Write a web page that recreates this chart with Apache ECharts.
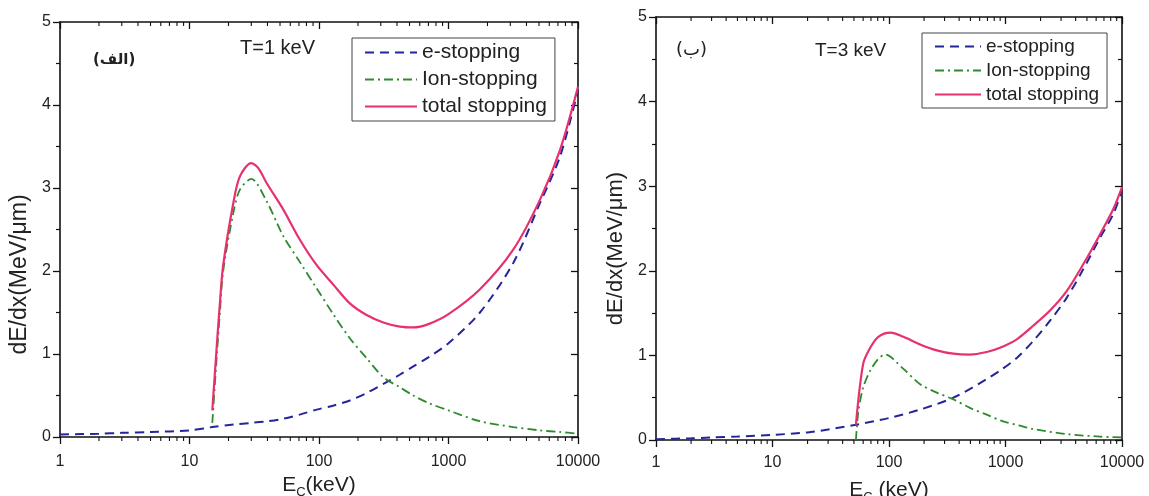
<!DOCTYPE html>
<html>
<head>
<meta charset="utf-8">
<script src="https://cdn.jsdelivr.net/npm/echarts@6/dist/echarts.min.js"></script>
<style>
html,body{margin:0;padding:0;background:#fff;}
#chart{width:1149px;height:496px;}
</style>
</head>
<body>
<div id="chart"></div>
<script>
// ---------- data ----------
// Left panel: T = 1 keV
const leftEStopE   = [1, 2, 3, 5, 10, 15, 22, 30, 40, 53, 71, 96, 130, 173, 233, 314, 420, 535, 700, 1000, 1750, 3170, 5090, 7270, 10000];
const leftEStopV   = [0.03, 0.04, 0.05, 0.06, 0.08, 0.12, 0.15, 0.17, 0.19, 0.22, 0.27, 0.33, 0.38, 0.44, 0.53, 0.64, 0.75, 0.85, 0.96, 1.13, 1.50, 2.10, 2.82, 3.38, 4.18];
const leftIonE     = [15, 16.2, 17.2, 18.2, 21.8, 24.5, 30, 39.4, 53, 71, 96, 130, 173, 233, 314, 420, 535, 700, 1000, 1750, 3170, 5090, 7270, 10000];
const leftIonV     = [0.17, 0.95, 1.52, 2.00, 2.70, 2.98, 3.11, 2.84, 2.42, 2.11, 1.79, 1.47, 1.19, 0.95, 0.72, 0.60, 0.50, 0.41, 0.32, 0.19, 0.12, 0.08, 0.06, 0.04];
const leftTotE     = [15, 16.2, 17.2, 18.2, 21.8, 24.5, 30, 34, 39.4, 53, 71, 96, 130, 173, 233, 314, 420, 535, 700, 1000, 1750, 3170, 5090, 7270, 10000];
const leftTotV     = [0.32, 1.07, 1.63, 2.07, 2.82, 3.14, 3.30, 3.24, 3.06, 2.74, 2.38, 2.07, 1.83, 1.61, 1.47, 1.38, 1.33, 1.32, 1.36, 1.48, 1.78, 2.26, 2.86, 3.46, 4.22];
// Right panel: T = 3 keV
const rightEStopE  = [1, 2, 3, 5, 10, 20, 26, 52, 100, 185, 357, 690, 897, 1250, 1730, 2410, 3350, 4660, 6470, 8420, 10000];
const rightEStopV  = [0.01, 0.02, 0.03, 0.04, 0.06, 0.09, 0.11, 0.18, 0.26, 0.36, 0.50, 0.72, 0.82, 0.97, 1.17, 1.41, 1.68, 2.02, 2.39, 2.67, 2.95];
const rightIonE    = [52, 54.6, 60, 69, 81, 92.5, 133, 185, 257, 357, 495, 690, 955, 1330, 1730, 3350, 6470, 10000];
const rightIonV    = [0.0, 0.34, 0.62, 0.82, 0.96, 1.01, 0.84, 0.66, 0.56, 0.48, 0.38, 0.30, 0.22, 0.17, 0.13, 0.07, 0.04, 0.03];
const rightTotE    = [52, 60, 69, 81, 103, 133, 185, 257, 357, 495, 690, 897, 1250, 1730, 2410, 3350, 4660, 6470, 8420, 10000];
const rightTotV    = [0.18, 0.90, 1.09, 1.22, 1.27, 1.22, 1.13, 1.06, 1.02, 1.01, 1.04, 1.09, 1.19, 1.35, 1.53, 1.76, 2.08, 2.43, 2.73, 2.99];

const seriesNames  = ['e-stopping', 'Ion-stopping', 'total stopping'];
const panelTemps   = ['T=1 keV', 'T=3 keV'];
const panelTags    = ['(الف)', '(ب)'];
const yTitle       = 'dE/dx(MeV/μm)';
const xTitles      = ['E{sub|C}(keV)', 'E{sub|C} (keV)'];
const minorTickVals = [];
[1, 10, 100, 1000].forEach(d => { for (let k = 2; k <= 9; k++) minorTickVals.push(k * d); });

// ---------- styling ----------
const FONT = '"Liberation Sans", Arial, sans-serif';
const BLUE = '#25259a', GREEN = '#2f8a2f', PINK = '#e8306e';
const pairs = (xs, ys) => xs.map((x, i) => [x, ys[i]]);

function xAxes(g, title, labelMargin, nameGap) {
  return [
    { gridIndex: g, type: 'log', logBase: 10, min: 1, max: 10000, position: 'bottom',
      axisLine: { show: true, onZero: false, lineStyle: { color: '#111', width: 1.6 } },
      axisTick: { show: true, inside: false, length: 7, lineStyle: { color: '#111', width: 1.3 } },
      minorTick: { show: false },
      axisLabel: { fontSize: 16, color: '#222', fontFamily: FONT, margin: labelMargin,
        formatter: v => String(Math.round(v)) },
      splitLine: { show: false },
      name: title, nameLocation: 'middle', nameGap: nameGap,
      nameTextStyle: { fontSize: 21, color: '#222', fontFamily: FONT,
        rich: { sub: { fontSize: 13, fontFamily: FONT, color: '#222', padding: [14, 0, 0, 0] } } } },
    { gridIndex: g, type: 'log', logBase: 10, min: 1, max: 10000, position: 'top',
      axisLine: { show: true, onZero: false, lineStyle: { color: '#111', width: 1.6 } },
      axisTick: { show: true, inside: true, length: 7, lineStyle: { color: '#111', width: 1.3 } },
      axisLabel: { show: false }, splitLine: { show: false } }
  ];
}
function yAxes(g, fs, pad) {
  return [
    { gridIndex: g, type: 'value', min: 0, max: 5, interval: 1, position: 'left',
      axisLine: { show: true, onZero: false, lineStyle: { color: '#111', width: 1.6 } },
      axisTick: { show: true, inside: false, length: 7, lineStyle: { color: '#111', width: 1.3 } },
      minorTick: { show: true, splitNumber: 2, length: 4, lineStyle: { color: '#111', width: 1.2 } },
      axisLabel: { fontSize: 16, color: '#222', fontFamily: FONT, margin: 9 },
      splitLine: { show: false },
      name: yTitle, nameLocation: 'middle', nameGap: 29, nameRotate: 90,
      nameTextStyle: { fontSize: fs, color: '#222', fontFamily: FONT, padding: pad } },
    { gridIndex: g, type: 'value', min: 0, max: 5, interval: 1, position: 'right',
      axisLine: { show: true, onZero: false, lineStyle: { color: '#111', width: 1.6 } },
      axisTick: { show: true, inside: true, length: 7, lineStyle: { color: '#111', width: 1.3 } },
      minorTick: { show: true, splitNumber: 2, length: 4, lineStyle: { color: '#111', width: 1.2 } },
      axisLabel: { show: false }, splitLine: { show: false } }
  ];
}
function lineSeries(name, data, xi, yi, color, type, w) {
  return { name, type: 'line', xAxisIndex: xi, yAxisIndex: yi, data, symbol: 'none',
    smooth: 0.3,
    lineStyle: { color, width: w, type }, itemStyle: { color }, z: name === 'total stopping' ? 3 : 2 };
}
function minorTickSeries(xi, yi) {
  return { type: 'custom', xAxisIndex: xi, yAxisIndex: yi, silent: true, clip: false, z: 5,
    data: minorTickVals.map(v => [v, 0]),
    renderItem: (params, api) => {
      const v = api.value(0);
      const b = api.coord([v, 0]);
      const t = api.coord([v, 5]);
      return { type: 'group', children: [
        { type: 'line', shape: { x1: b[0], y1: b[1], x2: b[0], y2: b[1] + 4 }, style: { stroke: '#111', lineWidth: 1.1 } },
        { type: 'line', shape: { x1: t[0], y1: t[1], x2: t[0], y2: t[1] + 4 }, style: { stroke: '#111', lineWidth: 1.1 } }
      ] };
    } };
}
function legend(left, top, iconW, fs, gap) {
  return { orient: 'vertical', left, top, data: seriesNames, selectedMode: false,
    backgroundColor: '#fff', borderColor: '#444', borderWidth: 1, borderRadius: 0,
    padding: [4, 8, 4, 12], itemWidth: iconW, itemHeight: 14, itemGap: gap,
    itemStyle: { color: 'rgba(0,0,0,0)', borderWidth: 0, opacity: 0 },
    textStyle: { fontSize: fs, color: '#222', fontFamily: FONT } };
}

const dashE = [9, 6];
const dashIon = [9, 4, 2, 4];

const option = {
  animation: false,
  backgroundColor: '#fff',
  grid: [
    { left: 60, top: 22, width: 518, height: 415, outerBoundsMode: 'none', containLabel: false },
    { left: 656, top: 17, width: 466, height: 423, outerBoundsMode: 'none', containLabel: false }
  ],
  xAxis: [...xAxes(0, xTitles[0], 17, 33), ...xAxes(1, xTitles[1], 15, 37)],
  yAxis: [...yAxes(0, 23, [0, 90, 0, 0]), ...yAxes(1, 22, [0, 40, 0, 0])],
  legend: [legend(352, 38, 52, 21, 6), legend(922, 33, 46, 19, 5)],
  series: [
    lineSeries(seriesNames[0], pairs(leftEStopE, leftEStopV), 0, 0, BLUE, dashE, 2),
    lineSeries(seriesNames[1], pairs(leftIonE, leftIonV), 0, 0, GREEN, dashIon, 1.8),
    lineSeries(seriesNames[2], pairs(leftTotE, leftTotV), 0, 0, PINK, 'solid', 2.2),
    lineSeries(seriesNames[0], pairs(rightEStopE, rightEStopV), 2, 2, BLUE, dashE, 2),
    lineSeries(seriesNames[1], pairs(rightIonE, rightIonV), 2, 2, GREEN, dashIon, 1.8),
    lineSeries(seriesNames[2], pairs(rightTotE, rightTotV), 2, 2, PINK, 'solid', 2.2),
    minorTickSeries(0, 0),
    minorTickSeries(2, 2)
  ],
  graphic: [
    { type: 'text', left: 240, top: 38, style: { text: panelTemps[0], font: '20px ' + FONT, fill: '#222' } },
    { type: 'text', left: 93, top: 53, style: { text: panelTags[0], font: 'bold 15px "DejaVu Sans", sans-serif', fill: '#222' } },
    { type: 'text', left: 815, top: 41, style: { text: panelTemps[1], font: '19px ' + FONT, fill: '#222' } },
    { type: 'text', left: 676, top: 41, style: { text: panelTags[1], font: '18px "DejaVu Sans", sans-serif', fill: '#222' } }
  ]
};

const chart = echarts.init(document.getElementById('chart'), null, { renderer: 'canvas' });
chart.setOption(option);
</script>
</body>
</html>
